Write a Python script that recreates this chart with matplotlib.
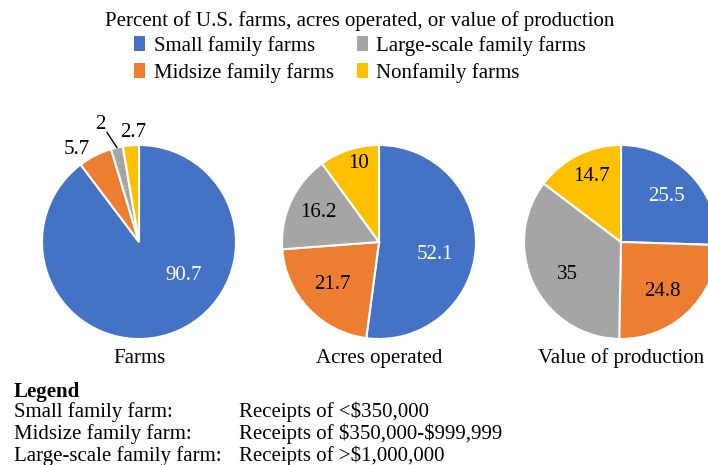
import matplotlib.pyplot as plt
from matplotlib.patches import Patch
import numpy as np

plt.rcParams['font.family'] = ['Liberation Serif', 'DejaVu Serif']

# data
categories = ["Small family farms", "Midsize family farms",
              "Large-scale family farms", "Nonfamily farms"]
farms = [90.7, 5.7, 2, 2.7]
acres = [52.1, 21.7, 16.2, 10]
production = [25.5, 24.8, 35, 14.7]
pie_titles = ["Farms", "Acres operated", "Value of production"]
colors = ["#4472C4", "#ED7D31", "#A5A5A5", "#FFC000"]

legend_rows = ["Small family farm:", "Midsize family farm:", "Large-scale family farm:"]
legend_desc = ["Receipts of <\\$350,000", "Receipts of \\$350,000-\\$999,999",
               "Receipts of >\\$1,000,000"]

# label spots in units of the pie radius (Excel "best fit" style)
label_pos = [
    [(0.46, -0.35), (-0.64, 0.95), (-0.40, 1.21), (-0.06, 1.13)],
    [(0.58, -0.13), (-0.48, -0.44), (-0.63, 0.30), (-0.21, 0.81)],
    [(0.47, 0.47), (0.43, -0.51), (-0.55, -0.33), (-0.30, 0.68)],
]

W, H = 708, 465
R = 97
CY = 242
centers = [139, 379, 621]
FS = 15

fig = plt.figure(figsize=(W / 100, H / 100), dpi=100)

for k, vals in enumerate([farms, acres, production]):
    cx = centers[k]
    ax = fig.add_axes([(cx - 1.3 * R) / W, (H - CY - 1.3 * R) / H, 2.6 * R / W, 2.6 * R / H])
    wedges, _ = ax.pie(vals, colors=colors, startangle=90, counterclock=False,
                       wedgeprops=dict(edgecolor='white', linewidth=1.5))
    ax.set_xlim(-1.3, 1.3)
    ax.set_ylim(-1.3, 1.3)
    ax.set_aspect('equal')
    ax.axis('off')
    for j, v in enumerate(vals):
        x, y = label_pos[k][j]
        ax.text(x, y, f"{v:g}", ha='center', va='center', fontsize=FS,
                color='white' if j == 0 else 'black')
    if k == 0:
        # leader line for the tiny gray slice
        w = wedges[2]
        mid = np.deg2rad((w.theta1 + w.theta2) / 2)
        ax.plot([-0.33, np.cos(mid)], [1.13, np.sin(mid)], color='black', lw=1)
    fig.text(cx / W, 1 - 358 / H, pie_titles[k], ha='center', va='center', fontsize=FS)

fig.text(360 / W, 1 - 21 / H, "Percent of U.S. farms, acres operated, or value of production",
         ha='center', va='center', fontsize=FS)

handles = [Patch(facecolor=c, edgecolor='none') for c in colors]
fig.legend(handles, categories, loc='upper center', bbox_to_anchor=(360 / W, 1 - 36 / H),
           ncol=2, frameon=False, fontsize=FS, handlelength=0.55, handleheight=0.75,
           handletextpad=0.4, columnspacing=1.1, labelspacing=0.35, borderpad=0,
           borderaxespad=0)

fig.text(14 / W, 1 - 392 / H, "Legend", fontsize=FS, weight='bold', va='center')
for i, (a, b) in enumerate(zip(legend_rows, legend_desc)):
    y = 1 - (412 + 22 * i) / H
    fig.text(14 / W, y, a, fontsize=FS, va='center')
    fig.text(239 / W, y, b, fontsize=FS, va='center')

fig.savefig("out.png", dpi=100)
